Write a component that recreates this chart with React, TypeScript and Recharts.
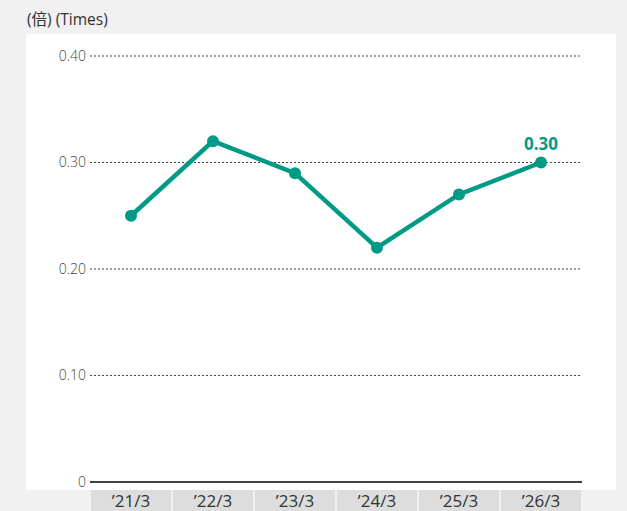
import React from "react";
import { LineChart, Line, XAxis, YAxis, CartesianGrid, LabelList } from "recharts";

const categories = ["’21/3", "’22/3", "’23/3", "’24/3", "’25/3", "’26/3"];
const ratioValues = [0.25, 0.32, 0.29, 0.22, 0.27, 0.3];
const yTicks = [0, 0.1, 0.2, 0.3, 0.4];
const gridValues = [0.1, 0.2, 0.3, 0.4];

const TEAL = "#009a85";
const FONT = "'Open Sans', 'Noto Sans CJK JP', sans-serif";

const data = categories.map((name, i) => ({ name, value: ratioValues[i] }));

const XTick = (props: any) => {
  const { x, y, payload } = props;
  return (
    <g>
      <rect x={x - 40} y={y} width={80} height={22} fill="#dcdddc" />
      <text
        x={x}
        y={y + 10}
        textAnchor="middle"
        dominantBaseline="central"
        fontSize={17}
        fill="#333"
        fontFamily={FONT}
      >
        {payload.value}
      </text>
    </g>
  );
};

const LastLabel = (props: any) => {
  const { x, y, index, value } = props;
  if (index !== ratioValues.length - 1) return null;
  return (
    <text
      x={x}
      y={y - 13}
      textAnchor="middle"
      fontSize={17}
      fontWeight="bold"
      fill={TEAL}
      fontFamily={FONT}
    >
      {Number(value).toFixed(2)}
    </text>
  );
};

export default function App() {
  return (
    <div
      style={{
        position: "fixed",
        left: 0,
        top: 0,
        width: 627,
        height: 511,
        background: "#f0f1f0",
        overflow: "hidden",
        fontFamily: FONT,
      }}
    >
      <div
        style={{
          position: "absolute",
          left: 26,
          top: 34,
          width: 590,
          height: 456,
          background: "#fff",
        }}
      />
      <div
        style={{
          position: "absolute",
          left: 27,
          top: 7,
          fontSize: 15.5,
          color: "#333",
        }}
      >
        (倍) (Times)
      </div>
      <div style={{ position: "absolute", left: 0, top: 0 }}>
        <LineChart
          width={627}
          height={511}
          data={data}
          margin={{ top: 56, right: 45, bottom: 0, left: 20 }}
        >
          <CartesianGrid
            vertical={false}
            horizontalValues={gridValues}
            stroke="#444"
            strokeDasharray="2 2"
          />
          <XAxis
            dataKey="name"
            height={29}
            padding={{ left: 41, right: 41 }}
            tickLine={false}
            tickSize={0}
            tickMargin={8}
            axisLine={{ stroke: "#000", strokeWidth: 1.4 }}
            tick={<XTick />}
            interval={0}
          />
          <YAxis
            width={70}
            domain={[0, 0.4]}
            ticks={yTicks}
            tickFormatter={(v: number) => (v === 0 ? "0" : v.toFixed(2))}
            axisLine={false}
            tickLine={false}
            tickSize={4}
            tickMargin={0}
            tick={{ fontSize: 14, fill: "#444", fontFamily: FONT, fontWeight: 300 }}
          />
          <Line
            type="linear"
            dataKey="value"
            stroke={TEAL}
            strokeWidth={4.5}
            dot={{ r: 6, fill: TEAL, stroke: "none" }}
            isAnimationActive={false}
          >
            <LabelList dataKey="value" content={<LastLabel />} />
          </Line>
        </LineChart>
      </div>
    </div>
  );
}
